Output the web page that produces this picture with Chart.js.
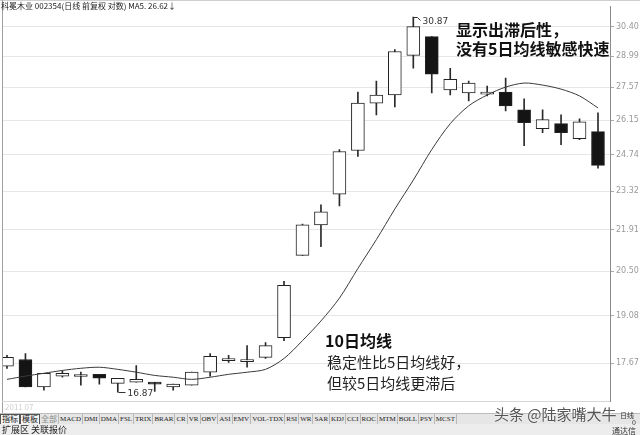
<!DOCTYPE html>
<html>
<head>
<meta charset="utf-8">
<script src="https://cdn.jsdelivr.net/npm/chart.js@4.4.0/dist/chart.umd.min.js"></script>
<style>
  html, body { margin: 0; padding: 0; background: #fff; }
  #wrap { position: relative; width: 640px; height: 435px; overflow: hidden; font-family: "Noto Sans CJK SC", sans-serif; }
  #c { position: absolute; left: 0; top: 0; }
  .t { position: absolute; white-space: nowrap; color: #111; }
  .ln { position: absolute; }
  #tabs { position: absolute; left: 0; top: 413px; width: 640px; height: 11px; background: #e6e6e6; border-top: 1px solid #bdbdbd; font: 7px "Liberation Serif", serif; color: #222; display: flex; }
  #tabs span { padding: 0 1px; line-height: 10px; border-right: 1px solid #b8b8b8; }
  #tabs span.sel { border: 1px solid #555; background: #f4f4f4; line-height: 8px; font-size: 8px; }
  #tabs span.gr { color: #888; font-size: 8px; }
  #ext { position: absolute; left: 0; top: 424px; width: 640px; height: 11px; background: #ededed; font: 9px "Noto Sans CJK SC", sans-serif; line-height: 11px; color: #222; padding-left: 2px; }
</style>
</head>
<body>
<div id="wrap">
  <canvas id="c" width="640" height="412"></canvas>
  <div class="ln" style="left:0;top:0;width:640px;height:1px;background:#cfcfcf"></div>
  <div class="ln" style="left:2px;top:0;width:1px;height:413px;background:#a0a0a0"></div>
  <div class="ln" style="left:2px;top:401px;width:608px;height:1px;background:#d6d6d6"></div>
  <div class="t" style="left:1px;top:1px;font-size:8px;line-height:9px;color:#222">科冕木业 002354(日线 前复权 对数) MA5. 26.62↓</div>
  <div class="t" style="left:5px;top:402px;font-size:8px;line-height:9px;color:#d0d0d0">2011 07</div>

  <div class="t" style="left:456px;top:21px;font-size:16px;line-height:17px;font-weight:700">显示出滞后性，</div>
  <div class="t" style="left:456px;top:40px;font-size:16px;line-height:17px;font-weight:700">没有5日均线敏感快速</div>
  <div class="t" style="left:325px;top:332px;font-size:16px;line-height:17px;font-weight:700">10日均线</div>
  <div class="t" style="left:327px;top:354px;font-size:15px;line-height:16px;color:#222">稳定性比5日均线好，</div>
  <div class="t" style="left:327px;top:375px;font-size:15px;line-height:16px;color:#222">但较5日均线更滞后</div>

  <div id="tabs"></div>
  <div id="ext">扩展区 关联报价</div>
  <div class="t" style="left:494px;top:405px;font-size:15px;line-height:17px;color:#555;text-shadow:0 0 2px #fff">头条 @陆家嘴大牛</div>
  <div class="t" style="left:620px;top:412px;font-size:7px;line-height:7px;color:#333">日线</div>
  <div class="t" style="left:632px;top:419px;font-size:7px;line-height:7px;color:#333">0</div>
  <div class="t" style="left:612px;top:426px;font-size:8px;line-height:9px;color:#333">通达信</div>
</div>
<script>
// daily candles, 002354
var opens  = [17.59, 17.78, 17.01, 17.31, 17.30, 17.36, 17.11, 17.14, 17.14, 17.01, 17.06, 17.42, 17.75, 17.72, 17.84, 18.42, 21.03, 22.09, 23.21, 24.90, 26.88, 27.23, 29.03, 29.92, 27.45, 27.32, 27.27, 27.36, 26.59, 25.79, 26.00, 25.38, 25.67];
var closes = [17.84, 17.01, 17.39, 17.39, 17.31, 17.25, 17.25, 17.22, 17.09, 17.09, 17.42, 17.87, 17.81, 17.73, 18.18, 20.04, 22.09, 22.56, 24.86, 26.88, 27.23, 29.21, 30.40, 28.16, 27.93, 27.76, 27.28, 26.76, 26.04, 26.17, 25.63, 26.08, 24.31];
var highs  = [17.90, 17.95, 17.39, 17.45, 17.42, 17.36, 17.25, 17.61, 17.14, 17.09, 17.42, 17.95, 17.90, 18.18, 18.27, 20.17, 22.12, 22.81, 24.94, 27.36, 27.85, 29.30, 30.87, 29.92, 28.43, 27.85, 27.62, 27.98, 27.06, 26.59, 26.37, 26.21, 26.46];
var lows   = [17.53, 17.01, 16.92, 17.28, 17.06, 17.09, 16.87, 17.14, 16.89, 16.92, 17.06, 17.31, 17.70, 17.56, 17.81, 18.33, 21.03, 21.33, 22.77, 24.66, 26.37, 26.71, 28.43, 27.32, 27.23, 26.97, 27.19, 26.54, 25.10, 25.63, 25.14, 25.34, 24.20];
// 10 day average line
var ma10   = [17.22, 17.31, 17.39, 17.47, 17.53, 17.56, 17.50, 17.42, 17.33, 17.28, 17.22, 17.28, 17.36, 17.42, 17.50, 17.81, 18.33, 18.92, 19.63, 20.59, 21.57, 22.66, 23.74, 24.94, 26.00, 26.76, 27.23, 27.58, 27.76, 27.67, 27.49, 27.19, 26.67];
var yTicks = [17.67, 19.08, 20.50, 21.91, 23.32, 24.74, 26.15, 27.57, 28.99, 30.40];

var tabNames = ['指标', '模板', '全部', 'MACD', 'DMI', 'DMA', 'FSL', 'TRIX', 'BRAR', 'CR', 'VR', 'OBV', 'ASI', 'EMV', 'VOL-TDX', 'RSI', 'WR', 'SAR', 'KDJ', 'CCI', 'ROC', 'MTM', 'BOLL', 'PSY', 'MCST'];
var tabs = document.getElementById('tabs');
tabNames.forEach(function(n, i) {
    var s = document.createElement('span');
    s.textContent = n;
    if (i < 2) s.className = 'sel';
    if (i == 2) s.className = 'gr';
    if (i < 3) s.style.fontFamily = '"Noto Sans CJK SC"';
    tabs.appendChild(s);
});

//* high / low markers
var marks = {
    id: 'marks',
    afterDatasetsDraw: function(chart) {
        var ctx = chart.ctx, x = chart.scales.x, y = chart.scales.y;
        var hi = Math.max.apply(null, highs), iHi = highs.indexOf(hi);
        var lo = Math.min.apply(null, lows), iLo = lows.indexOf(lo);
        ctx.save();
        ctx.strokeStyle = '#333';
        ctx.fillStyle = '#333';
        ctx.lineWidth = 1;
        ctx.font = '9px "DejaVu Sans"';
        ctx.textBaseline = 'middle';
        var px = Math.round(x.getPixelForValue(iHi)) + 0.5, py = Math.round(y.getPixelForValue(hi)) + 0.5;
        ctx.beginPath();
        ctx.moveTo(px, py); ctx.lineTo(px + 4, py); ctx.lineTo(px + 7, py + 3);
        ctx.stroke();
        ctx.fillText(hi.toFixed(2), px + 9, py + 4);
        px = Math.round(x.getPixelForValue(iLo)) + 0.5; py = Math.round(y.getPixelForValue(lo)) + 0.5;
        ctx.beginPath();
        ctx.moveTo(px, py); ctx.lineTo(px + 7, py);
        ctx.stroke();
        ctx.fillText(lo.toFixed(2), px + 9, py + 1);
        ctx.restore();
    }
};

var bodies = opens.map(function(o, i) { return {x: i, y: [o, closes[i]]}; });
var wicks = lows.map(function(l, i) { return {x: i, y: [l, highs[i]]}; });
var maPts = ma10.map(function(v, i) { return {x: i, y: v}; });
var fills = opens.map(function(o, i) { return closes[i] >= o ? '#ffffff' : '#141414'; });

new Chart(document.getElementById('c'), {
    type: 'bar',
    data: {
        datasets: [{
            type: 'line',
            data: maPts,
            borderColor: '#3a3a3a',
            borderWidth: 1,
            pointRadius: 0,
            tension: 0.3,
            order: 1
        }, {
            data: bodies,
            backgroundColor: fills,
            borderColor: '#222',
            borderWidth: 1,
            borderSkipped: false,
            barThickness: 13,
            minBarLength: 2,
            grouped: false,
            order: 2
        }, {
            data: wicks,
            backgroundColor: '#2a2a2a',
            borderWidth: 0,
            barThickness: 1,
            grouped: false,
            order: 3
        }]
    },
    options: {
        responsive: false,
        animation: false,
        layout: { padding: { left: 2, top: 3, right: 0, bottom: 11 } },
        plugins: { legend: { display: false }, tooltip: { enabled: false } },
        scales: {
            x: { type: 'linear', min: -0.27, max: 32.65, offset: false, display: false },
            y: {
                type: 'logarithmic',
                position: 'right',
                min: 16.63,
                max: 31.39,
                afterBuildTicks: function(s) { s.ticks = yTicks.map(function(v) { return {value: v}; }); },
                afterFit: function(s) { s.width = 30; },
                grid: { color: '#e6e6e6', tickLength: 4, tickColor: '#aaa' },
                border: { color: '#8c8c8c' },
                ticks: {
                    color: '#9a9a9a',
                    padding: 2,
                    font: { size: 8, family: 'DejaVu Sans' },
                    callback: function(v) { return Number(v).toFixed(2); }
                }
            }
        }
    },
    plugins: [marks]
});
</script>
</body>
</html>
